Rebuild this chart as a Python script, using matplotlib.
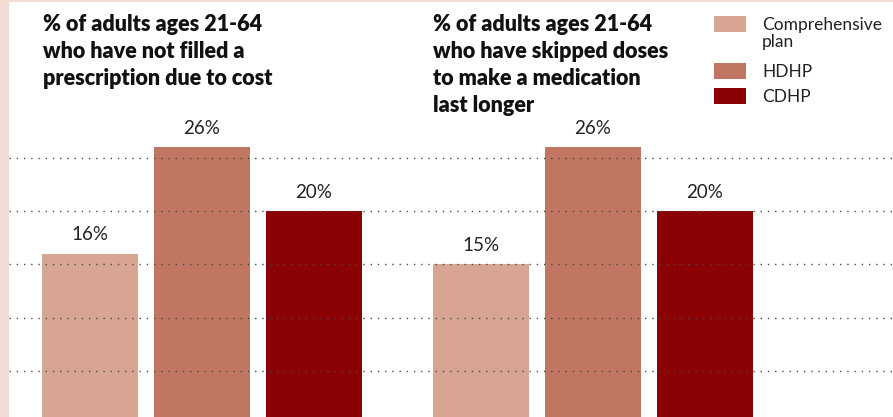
import matplotlib
matplotlib.use("Agg")
import matplotlib.pyplot as plt
from matplotlib.patches import Rectangle

# ---- data ----
titles = [
    "% of adults ages 21-64\nwho have not filled a\nprescription due to cost",
    "% of adults ages 21-64\nwho have skipped doses\nto make a medication\nlast longer",
]
plans = ["Comprehensive\nplan", "HDHP", "CDHP"]
not_filled = [16, 26, 20]
skipped = [15, 26, 20]
gridlines = [5, 10, 15, 20, 25]

colors = ["#d7a591", "#c17661", "#8a0003"]
strip = "#f2ddd5"

W, H = 893, 417
fig = plt.figure(figsize=(W / 100, H / 100), dpi=100)
fig.patch.set_facecolor("white")

# decorative strips
fig.add_artist(Rectangle((0, 0), 8.5 / W, 1, transform=fig.transFigure,
                         facecolor=strip, edgecolor="none", zorder=0))
fig.add_artist(Rectangle((0, 1 - 1.5 / H), 1, 1.5 / H, transform=fig.transFigure,
                         facecolor=strip, edgecolor="none", zorder=0))

# axes in pixel-like x units; y in percent
ax = fig.add_axes([9 / W, 0, 1 - 9 / W, 1])
ax.set_xlim(9, 893)
px_per_pct = 10.667
zero_px = 424.3
ax.set_ylim((zero_px - H) / px_per_pct, zero_px / px_per_pct)
ax.axis("off")

group_centers = [202, 593]
offsets = [-112, 0, 112]
bw = 96

for g, vals in enumerate([not_filled, skipped]):
    for i, v in enumerate(vals):
        x = group_centers[g] + offsets[i]
        ax.bar(x, v, width=bw, color=colors[i], zorder=1)
        ax.text(x, v + 0.95, f"{v}%", ha="center", va="bottom",
                fontsize=13.5, color="#222222", family="Lato", zorder=3)

for gv in gridlines:
    ax.axhline(gv, color="#4a4a4a", lw=1.0, linestyle=(0, (1, 4.2)), zorder=2)

# titles
title_x = [43, 433]
for tx, t in zip(title_x, titles):
    fig.text(tx / W, 1 - 14 / H, t, ha="left", va="top", fontsize=15.5,
             fontweight="heavy", family="Lato", color="#111111",
             linespacing=1.36)

# legend
leg_y = [16, 63, 88]
for i, (lab, c) in enumerate(zip(plans, colors)):
    fig.add_artist(Rectangle((714 / W, 1 - (leg_y[i] + 16) / H), 32 / W, 16 / H,
                             transform=fig.transFigure, facecolor=c,
                             edgecolor="none"))
    fig.text(762 / W, 1 - (leg_y[i] + 1) / H, lab, ha="left", va="top",
             fontsize=12.5, family="Lato", color="#222222", linespacing=1.05)

fig.savefig("out.png", dpi=100, facecolor="white")
